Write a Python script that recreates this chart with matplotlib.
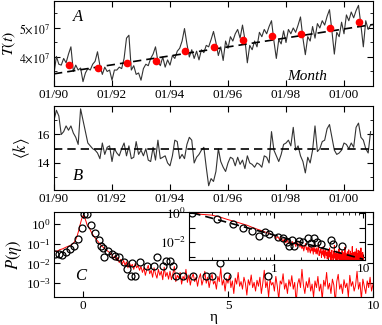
import numpy as np
import matplotlib.pyplot as plt
from matplotlib.ticker import MultipleLocator, LogLocator, NullFormatter

plt.rcParams['font.family'] = ['Liberation Serif', 'DejaVu Serif']
plt.rcParams['mathtext.fontset'] = 'stix'
plt.rcParams['font.size'] = 9.5
plt.rcParams['xtick.direction'] = 'in'
plt.rcParams['ytick.direction'] = 'in'
plt.rcParams['xtick.top'] = True
plt.rcParams['ytick.right'] = True
plt.rcParams['xtick.major.size'] = 4
plt.rcParams['ytick.major.size'] = 4
plt.rcParams['xtick.minor.size'] = 2
plt.rcParams['ytick.minor.size'] = 2
plt.rcParams['xtick.major.pad'] = 2.5
plt.rcParams['ytick.major.pad'] = 2.5

# ---- panel A: monthly T(t), units of 1e7 ----
T_month = [
    3.43, 4.02, 3.75, 3.72, 3.95, 3.80, 4.10, 4.35, 3.50, 3.72, 3.55, 3.62,
    3.15, 3.45, 3.60, 3.55, 3.75, 3.85, 4.18, 3.70, 3.40, 3.65, 3.50, 3.55,
    3.20, 3.55, 3.55, 3.65, 3.60, 3.95, 4.65, 4.75, 3.55, 3.70, 3.40, 3.45,
    3.20, 3.60, 3.75, 3.70, 3.95, 4.10, 4.35, 3.85, 3.70, 4.00, 3.65, 3.90,
    3.72, 4.05, 3.95, 4.20, 4.30, 4.55, 4.98, 4.45, 4.00, 4.25, 3.95, 4.20,
    3.90, 4.25, 4.15, 4.40, 4.35, 4.60, 4.88, 4.50, 4.05, 4.35, 3.88, 4.55,
    4.30, 4.70, 4.55, 4.80, 4.95, 4.65, 5.10, 4.60, 3.80, 4.40, 4.25, 4.55,
    4.35, 4.85, 4.70, 4.95, 4.80, 5.05, 5.25, 4.55, 3.95, 4.60, 4.45, 4.90,
    4.50, 4.95, 4.80, 5.00, 4.85, 5.10, 5.38, 4.65, 4.08, 4.70, 4.55, 5.05,
    4.65, 5.15, 5.00, 5.25, 5.10, 5.40, 5.63, 4.90, 4.10, 4.85, 4.70, 5.20,
    4.80, 5.45, 5.25, 5.55, 5.35, 5.60, 5.78, 5.10, 4.35, 5.25, 4.95, 5.10,
]
T_year_mean = [3.74, 3.61, 3.78, 3.86, 4.22, 4.33, 4.57, 4.71, 4.80, 4.99, 5.21]
trend_months = [0, 132]
trend_vals = [3.42, 5.12]
date_labels = ['01/90', '01/92', '01/94', '01/96', '01/98', '01/00']

# ---- panel B: monthly <k> ----
k_month = [
    17.0, 17.7, 17.3, 16.0, 16.2, 16.6, 16.3, 16.6, 16.1, 15.8, 15.3, 17.8,
    17.0, 16.2, 15.4, 15.2, 15.0, 14.9, 14.7, 14.3, 15.4, 14.6, 15.1, 15.2,
    14.1, 15.0, 14.7, 14.5, 15.0, 15.4, 14.5, 15.2, 14.3, 14.4, 15.5, 14.6,
    14.9, 14.5, 15.0, 14.2, 14.1, 15.1, 14.2, 15.6, 14.3, 14.4, 14.5, 14.0,
    13.8, 14.5, 15.6, 15.5, 14.3, 14.6, 14.3, 15.3, 15.8, 15.6, 14.0, 14.4,
    14.6, 14.9, 15.1, 13.7, 12.4, 12.9, 12.7, 13.4, 15.0, 14.1, 13.7, 13.4,
    14.0, 14.4, 14.3, 13.8, 14.4, 13.9, 14.2, 13.6, 14.5, 14.0, 13.9, 13.7,
    14.0, 13.9, 13.7, 14.5, 14.4, 14.0, 16.2, 14.9, 14.5, 14.1, 14.6, 15.3,
    15.4, 15.6, 15.2, 16.5, 14.9, 15.2, 14.5, 14.1, 13.3, 14.4, 14.0, 14.9,
    16.6, 14.8, 15.0, 15.5, 15.6, 16.4, 16.7, 15.8, 14.9, 14.6, 14.7, 14.9,
    15.4, 15.3, 15.0, 15.4, 15.1, 16.5, 16.8, 15.8, 15.6, 15.0, 14.7, 16.2,
]
k_mean = 15.0

# ---- panel C: P(eta) histogram, bins of 0.05 from -1 to 10 ----
p_core = [0.045, 0.04, 0.042, 0.045, 0.05, 0.052, 0.055, 0.06, 0.065, 0.07,
          0.075, 0.08, 0.09, 0.1, 0.12, 0.16, 0.25, 0.45, 0.9, 1.7,
          2.6, 2.2, 1.4, 0.8, 0.7, 0.5, 0.35, 0.27, 0.21, 0.17,
          0.14, 0.11, 0.09, 0.075, 0.065, 0.055, 0.048, 0.042, 0.037, 0.033]
p_tail_e3 = [
    28, 18, 24, 14, 20, 11, 16, 9, 14, 8, 12, 6, 11, 7, 9, 5, 10, 6, 8, 4.5,
    7, 3.5, 6, 2.5, 5, 8, 3, 4.5, 2, 6, 3, 1.8, 5, 2.5, 4, 1.5, 6.5, 2.2, 3.5, 1.6,
    4, 1.5, 3, 7, 1.2, 2.5, 1.8, 3.5, 0.9, 2.2, 1.5, 5, 1.1, 2.6, 0.8, 1.9, 3, 1.2, 2, 0.7,
    1.8, 3, 0.8, 1.5, 4, 1, 2, 0.6, 1.6, 2.8, 0.9, 1.3, 0.5, 2.2, 1.2, 6, 0.8, 1.5, 0.4, 1.7,
    1, 2.5, 0.6, 1.3, 0.3, 1.8, 0.9, 3.5, 0.7, 1.2, 0.5, 2, 1, 0.25, 1.5, 0.8, 2.6, 0.6, 1.1, 0.4,
    1.4, 0.7, 2, 0.3, 1, 4.5, 0.6, 1.2, 0.2, 1.6, 0.8, 1.1, 0.4, 2.2, 0.7, 0.15, 1.3, 0.9, 3, 0.5,
    1, 0.3, 1.5, 0.7, 2.4, 0.5, 1.1, 0.1, 0.9, 1.7, 0.6, 5, 0.8, 0.3, 1.2, 0.6, 1.9, 0.4, 0.9, 0.2,
    1.3, 0.6, 2.2, 0.4, 0.9, 0.15, 1.4, 0.7, 3.5, 0.5, 1, 0.3, 1.6, 0.8, 0.1, 1.2, 2.8, 0.5, 0.9, 0.3,
    1.5, 0.6, 1, 0.2, 2.5, 0.7, 1.2, 0.4, 0.8, 4, 0.5, 1.1, 0.15, 1.6, 0.7, 0.3, 1.3, 0.6, 2, 0.4, 0.9,
]
circ_eta = [-0.95, -0.82, -0.72, -0.6, -0.45, -0.32, -0.18, -0.05, 0.03, 0.15,
            0.28, 0.42, 0.55, 0.62, 0.7, 0.72, 0.85, 1.0, 1.1, 1.25,
            1.4, 1.5, 1.65, 1.8, 1.7, 1.95, 2.2, 2.45, 2.55, 2.75,
            2.85, 3.0, 3.1, 3.2, 3.45, 3.8, 4.25, 4.45, 4.73, 4.95, 6.37]
circ_p = [0.03, 0.03, 0.028, 0.037, 0.055, 0.075, 0.17, 0.65, 3.0, 3.0,
          0.9, 0.33, 0.16, 0.08, 0.06, 0.02, 0.045, 0.03, 0.025, 0.02,
          0.012, 0.005, 0.0024, 0.0024, 0.01, 0.012, 0.007, 0.007, 0.022, 0.007,
          0.014, 0.014, 0.007, 0.0024, 0.0024, 0.0024, 0.0024, 0.0024, 0.01, 0.0024, 0.0024]

# inset (log-log, eta > 0)
in_eta = [0.12, 0.23, 0.34, 0.44, 0.56, 0.67, 0.78, 0.87, 1.1, 1.26,
          1.4, 1.45, 1.6, 1.69, 1.9, 2.1, 2.43, 2.79, 2.6, 3.0,
          3.4, 4.4, 4.6, 5.8]
in_p = [1.0, 0.39, 0.17, 0.1, 0.056, 0.027, 0.049, 0.038, 0.023, 0.018,
        0.011, 0.0057, 0.013, 0.0057, 0.012, 0.01, 0.019, 0.019, 0.009, 0.011,
        0.008, 0.014, 0.0075, 0.0054]
fit_eta = [0.12, 10]
fit_p = [1.0, 6.8e-4]

W, H = 382, 325
fig = plt.figure(figsize=(W / 100, H / 100), dpi=100)

def frac(x0, y0, x1, y1):
    return [x0 / W, 1 - y1 / H, (x1 - x0) / W, (y1 - y0) / H]

months = np.arange(len(T_month))
year_mid = np.arange(len(T_year_mean)) * 12 + 6
tick_months = np.arange(0, 121, 24)

# A
axA = fig.add_axes(frac(54, 1, 373, 86))
axA.plot(months, np.array(T_month) * 1e7, color='#333333', lw=0.8)
axA.plot(trend_months, np.array(trend_vals) * 1e7, 'k--', lw=1.2, dashes=(5, 3))
axA.plot(year_mid, np.array(T_year_mean) * 1e7, 'o', color='red', ms=4.5, mec='red')
axA.set_xlim(0, 132)
axA.set_ylim(3.0e7, 5.93e7)
axA.set_xticks(tick_months, date_labels)
axA.set_yticks([4e7, 5e7], [r'$4{\times}10^7$', r'$5{\times}10^7$'], fontsize=8.5)
axA.yaxis.set_minor_locator(MultipleLocator(0.5e7))
axA.set_ylabel(r'$T(t)$', fontsize=11.5, labelpad=1)
axA.text(0.06, 0.76, 'A', transform=axA.transAxes, fontsize=12, style='italic')
axA.text(0.73, 0.07, 'Month', transform=axA.transAxes, fontsize=11, style='italic')

# B
axB = fig.add_axes(frac(54, 106, 373, 190))
axB.plot(months, k_month, color='#333333', lw=0.8)
axB.axhline(k_mean, color='k', ls='--', lw=1.2, dashes=(5, 3))
axB.set_xlim(0, 132)
axB.set_ylim(12.1, 18.0)
axB.set_xticks(tick_months, date_labels)
axB.set_yticks([14, 16])
axB.yaxis.set_minor_locator(MultipleLocator(1))
axB.set_ylabel(r'$\langle k\rangle$', fontsize=12, labelpad=4)
axB.text(0.06, 0.12, 'B', transform=axB.transAxes, fontsize=12, style='italic')

# C
eta_grid = np.round(np.arange(-1.0, 10.001, 0.05), 2)
p_red = np.array(p_core + [v * 1e-3 for v in p_tail_e3])
axC = fig.add_axes(frac(54, 212, 373, 297))
axC.semilogy(eta_grid, p_red, color='red', lw=0.7)
axC.plot(circ_eta, circ_p, 'o', mfc='none', mec='k', ms=5, mew=0.9)
axC.set_xlim(-1, 10)
axC.set_ylim(2e-4, 4)
axC.set_xticks([0, 5, 10])
axC.set_yticks([1e-3, 1e-2, 1e-1, 1])
axC.yaxis.set_minor_locator(LogLocator(base=10, subs=np.arange(2, 10)))
axC.yaxis.set_minor_formatter(NullFormatter())
axC.set_ylabel(r'$P(\eta)$', fontsize=12, labelpad=1)
axC.set_xlabel('η', fontsize=11, labelpad=-1)
axC.text(0.065, 0.2, 'C', transform=axC.transAxes, fontsize=12, style='italic')

# inset
axI = fig.add_axes(frac(189, 212, 365, 260))
pos = eta_grid > 0
axI.loglog(eta_grid[pos], p_red[pos], color='red', lw=0.7)
axI.plot(fit_eta, fit_p, 'k--', lw=1.2, dashes=(5, 3))
axI.plot(in_eta, in_p, 'o', mfc='none', mec='k', ms=5, mew=0.9)
axI.set_xlim(0.11, 10.5)
axI.set_ylim(6e-4, 1.15)
axI.set_xticks([1, 10], ['1', '10'])
axI.set_yticks([1e-3, 1e-2, 1e-1, 1], ['', r'$10^{-2}$', '', r'$10^{0}$'])
axI.xaxis.set_minor_locator(LogLocator(base=10, subs=np.arange(2, 10)))
axI.xaxis.set_minor_formatter(NullFormatter())
axI.yaxis.set_minor_locator(LogLocator(base=10, subs=np.arange(2, 10)))
axI.yaxis.set_minor_formatter(NullFormatter())
axI.tick_params(labelsize=9.5, pad=2)

fig.savefig('out.png', dpi=100)
